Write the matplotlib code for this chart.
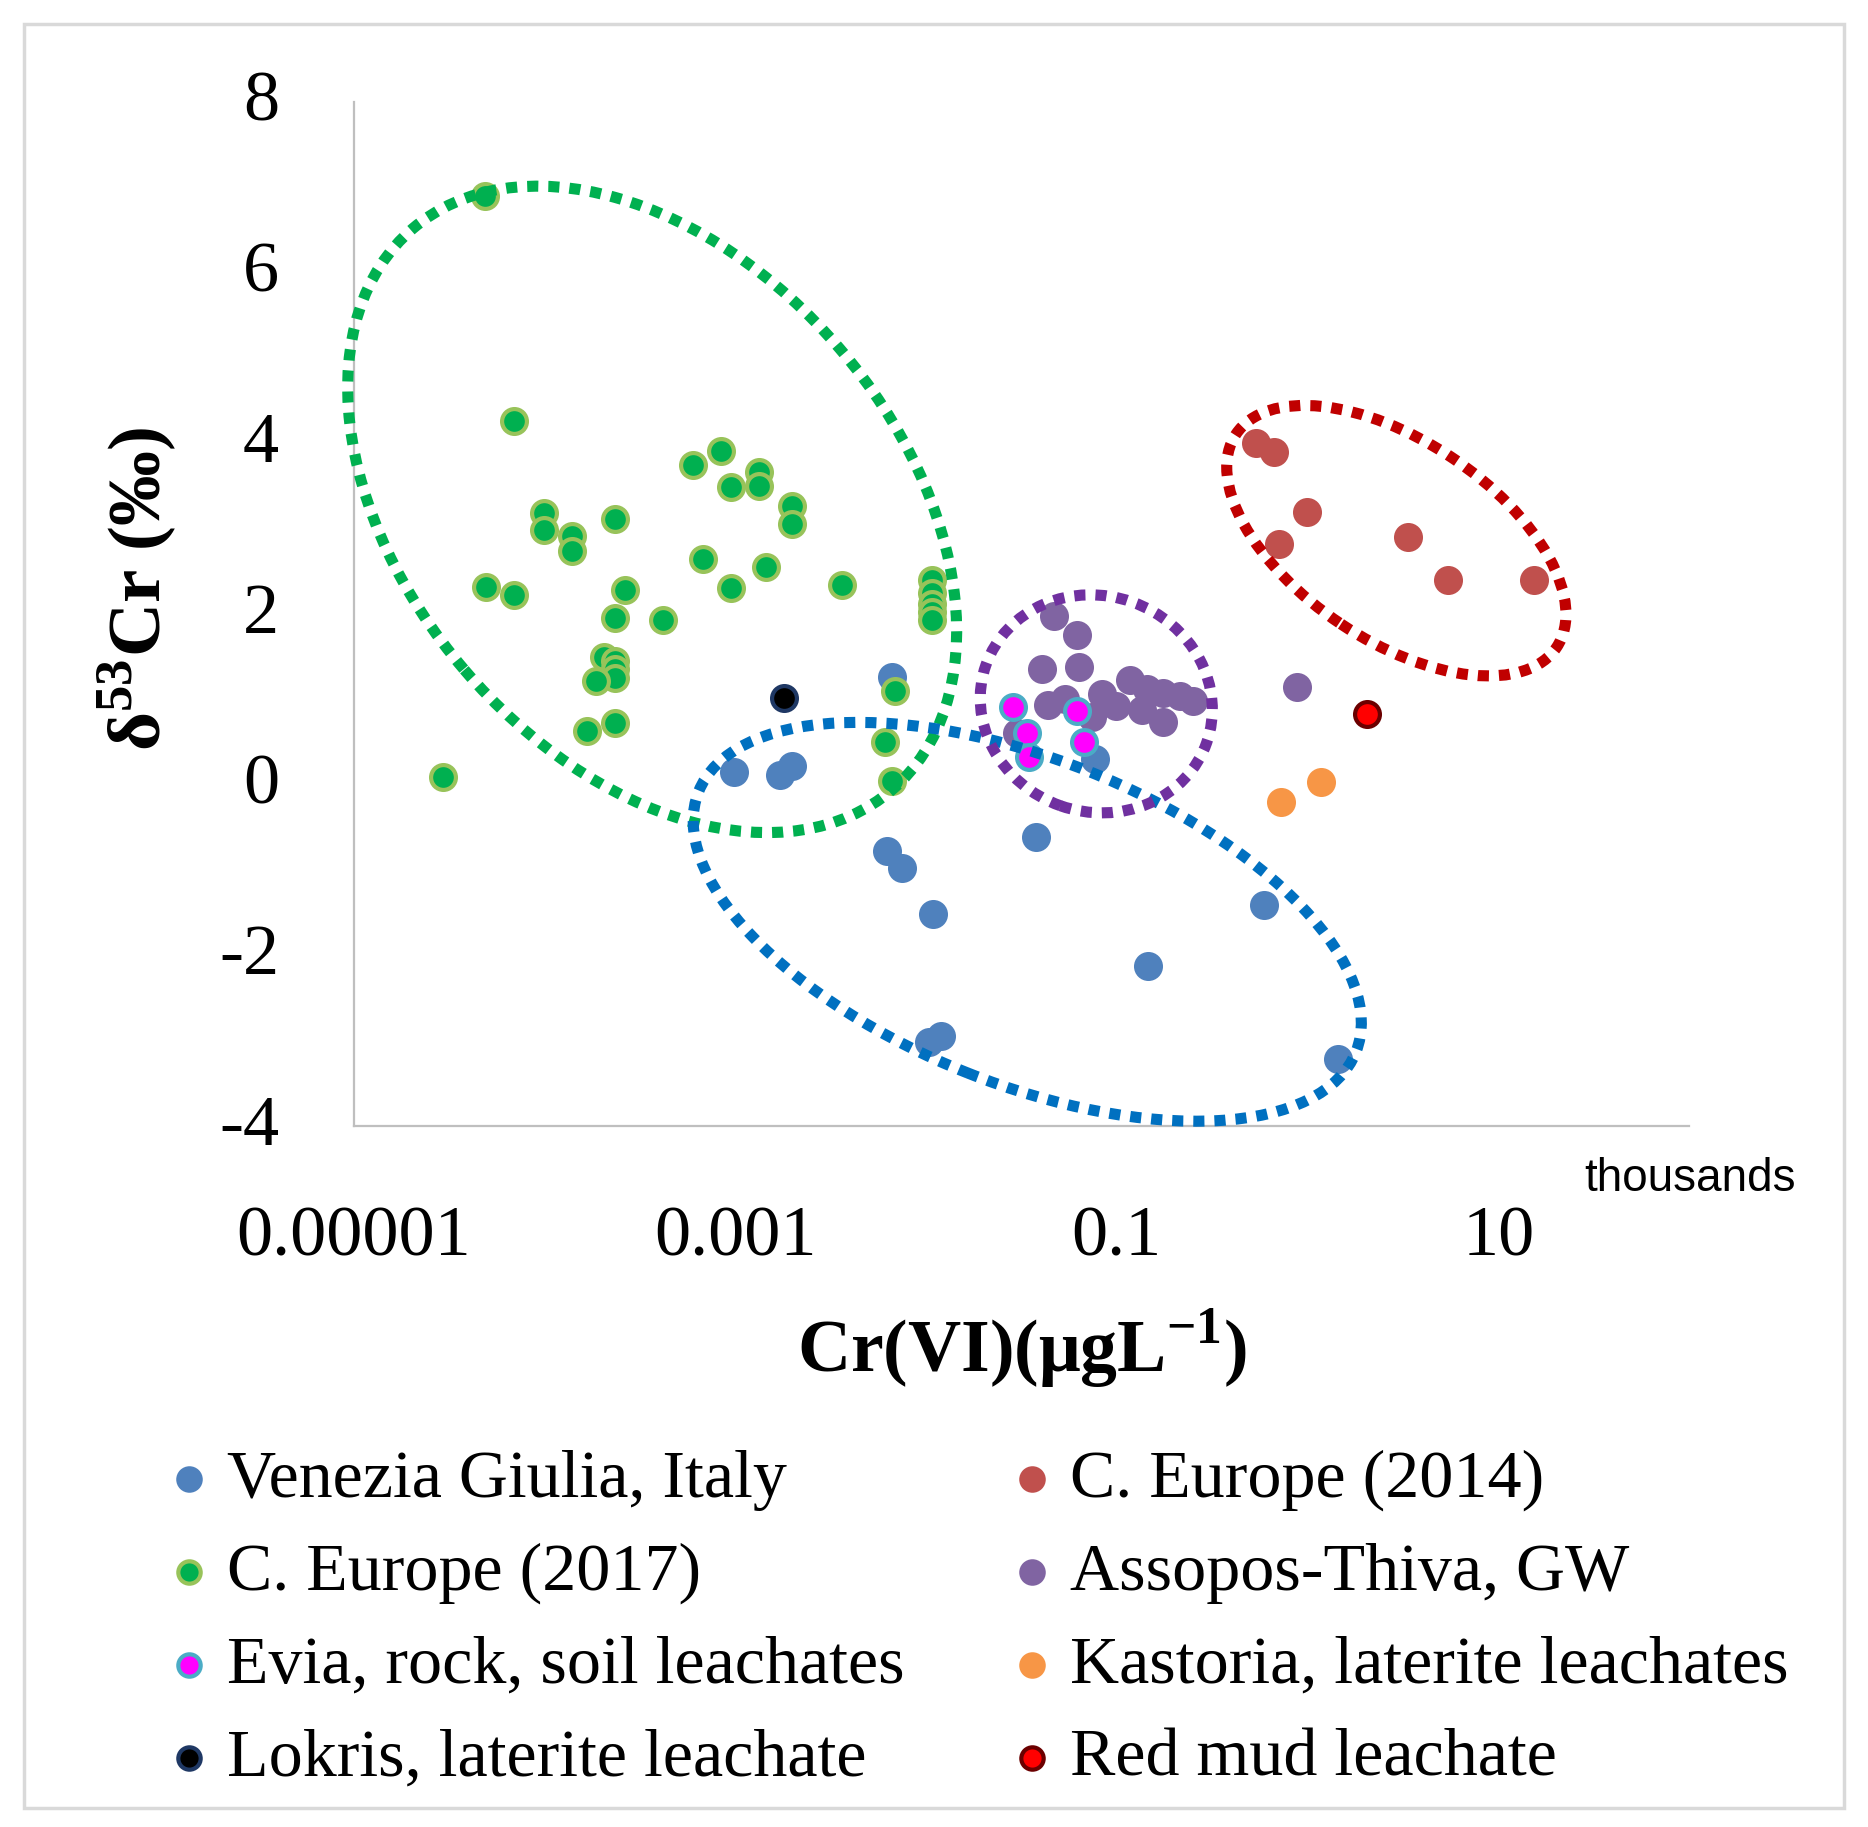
import numpy as np
import matplotlib.pyplot as plt
from matplotlib.patches import Ellipse, Rectangle
from matplotlib.transforms import ScaledTranslation

plt.rcParams['font.family'] = ['Liberation Serif', 'DejaVu Serif']
plt.rcParams['mathtext.fontset'] = 'custom'
plt.rcParams['mathtext.rm'] = 'Liberation Serif'
plt.rcParams['mathtext.bf'] = 'Liberation Serif:bold'

# Cr(VI) (ug/L) and d53Cr (permil) per data set
venezia_x = [9.8e-4, 1.72e-3, 1.98e-3, 6.65e-3, 6.2e-3, 7.5e-3, 0.0108, 0.0104, 0.0120,
             0.0376, 0.146, 0.589, 1.45, 0.0769]
venezia_y = [0.15, 0.11, 0.22, 1.26, -0.78, -0.98, -1.51, -3.02, -2.94,
             -0.61, -2.13, -1.41, -3.22, 0.30]

ceu14_x = [0.535, 0.667, 0.991, 0.706, 3.36, 5.46, 15.3]
ceu14_y = [4.00, 3.90, 3.19, 2.82, 2.90, 2.40, 2.40]

ceu17_x = [4.84e-5, 6.93e-5, 5.98e-4, 8.38e-4, 9.44e-4, 1.33e-3, 1.33e-3, 1.98e-3, 1.98e-3,
           9.95e-5, 9.95e-5, 1.39e-4, 1.39e-4, 2.33e-4, 4.91e-5, 6.93e-5, 6.75e-4, 9.44e-4,
           1.45e-3, 3.61e-3, 2.64e-4, 2.33e-4, 4.15e-4,
           0.0107, 0.0107, 0.0107, 0.0107, 0.0107,
           2.04e-4, 2.33e-4, 2.33e-4, 2.33e-4, 1.85e-4,
           1.66e-4, 2.33e-4, 2.92e-5, 6.87e-3, 6.05e-3, 6.64e-3]
ceu17_y = [6.90, 4.26, 3.75, 3.91, 3.49, 3.66, 3.50, 3.27, 3.06,
           3.18, 2.99, 2.91, 2.74, 3.11, 2.32, 2.22, 2.64, 2.31,
           2.55, 2.34, 2.28, 1.95, 1.93,
           2.40, 2.25, 2.12, 2.02, 1.93,
           1.50, 1.45, 1.35, 1.25, 1.21,
           0.63, 0.72, 0.09, 1.10, 0.50, 0.04]

assopos_x = [0.0469, 0.0617, 0.0404, 0.0635, 0.0433, 0.0535, 0.0834, 0.0991, 0.117,
             0.144, 0.175, 0.175, 0.252, 0.0738, 0.0299, 0.881, 0.215, 0.135]
assopos_y = [1.98, 1.75, 1.36, 1.38, 0.93, 1.00, 1.06, 0.92, 1.23,
             1.12, 1.08, 0.73, 0.98, 0.79, 0.61, 1.15, 1.04, 0.88]

evia_x = [0.0286, 0.0337, 0.0348, 0.0617, 0.0673]
evia_y = [0.91, 0.60, 0.32, 0.86, 0.50]

kastoria_x = [0.726, 1.18]
kastoria_y = [-0.20, 0.03]

lokris_x = [1.79e-3]
lokris_y = [1.01]

redmud_x = [2.05]
redmud_y = [0.83]

xticks = [1e-5, 1e-3, 1e-1, 10]
xticklabels = ['0.00001', '0.001', '0.1', '10']
yticks = [-4, -2, 0, 2, 4, 6, 8]
yticklabels = ['-4', '-2', '0', '2', '4', '6', '8']

W, H = 1868, 1827
fig = plt.figure(figsize=(W / 100, H / 100), dpi=100)
ax = fig.add_axes([354 / W, 1 - 1126 / H, (1689 - 354) / W, (1126 - 102) / H])

series = [
    ('Venezia Giulia, Italy', venezia_x, venezia_y, '#4F81BD', '#4F81BD'),
    ('C. Europe (2014)', ceu14_x, ceu14_y, '#C0504D', '#C0504D'),
    ('C. Europe (2017)', ceu17_x, ceu17_y, '#00B050', '#98C35A'),
    ('Assopos-Thiva, GW', assopos_x, assopos_y, '#8064A2', '#8064A2'),
    ('Evia, rock, soil leachates', evia_x, evia_y, '#FF00FF', '#4BACC6'),
    ('Kastoria, laterite leachates', kastoria_x, kastoria_y, '#F79646', '#F79646'),
    ('Lokris, laterite leachate', lokris_x, lokris_y, '#000000', '#1F3864'),
    ('Red mud leachate', redmud_x, redmud_y, '#FF0000', '#6B0000'),
]
handles = []
for label, xs, ys, fc, ec in series:
    h = ax.scatter(xs, ys, s=320, c=fc, edgecolors=ec, linewidths=3, label=label, zorder=2)
    handles.append(h)

ax.set_xscale('log')
ax.set_xlim(1e-5, 1e2)
ax.set_ylim(-4, 8)
ax.set_xticks(xticks)
ax.set_xticklabels(xticklabels)
ax.set_yticks(yticks)
ax.set_yticklabels(yticklabels)
ax.xaxis.set_minor_locator(plt.NullLocator())
ax.tick_params(axis='both', length=0, labelsize=52)
ax.tick_params(axis='y', pad=54)
ax.tick_params(axis='x', pad=57)
# nudge y tick labels up a little
for lbl in ax.get_yticklabels():
    lbl.set_transform(lbl.get_transform() + ScaledTranslation(0, 4.5 / 72, fig.dpi_scale_trans))
for s in ['top', 'right']:
    ax.spines[s].set_visible(False)
for s in ['left', 'bottom']:
    ax.spines[s].set_color('#BFBFBF')
    ax.spines[s].set_linewidth(1.6)

ax.set_xlabel(r'Cr(VI)(μgL$^{\mathbf{-1}}$)', fontsize=53, fontweight='bold')
ax.xaxis.label.set_verticalalignment('center')
ax.xaxis.set_label_coords(0.5004, -0.218)
ax.set_ylabel(r'δ$^{\mathbf{53}}$Cr (‰)', fontsize=54, fontweight='bold')
ax.yaxis.label.set_verticalalignment('center')
ax.yaxis.set_label_coords(-0.1625, 0.524)

fig.text(1796 / W, 1 - 1179 / H, 'thousands', ha='right', va='center',
         family='Liberation Sans', fontsize=33)

# dotted group outlines: centre (data), width/height (inch), angle
groups = [
    (3.66e-4, 3.226, 7.38, 4.94, -49.5, '#00B050'),
    (0.0339, -1.607, 7.07, 3.25, -21.6, '#0070C0'),
    (0.078, 0.947, 2.34, 2.16, -19.4, '#7030A0'),
    (2.92, 2.859, 3.85, 2.00, -33.6, '#C00000'),
]
for cx, cy, w, h, ang, col in groups:
    tr = fig.dpi_scale_trans + ScaledTranslation(cx, cy, ax.transData)
    e = Ellipse((0, 0), w, h, angle=ang, transform=tr, fill=False, edgecolor=col,
                linewidth=8, linestyle=(0, (1, 0.9)), capstyle='butt', zorder=3, clip_on=False)
    ax.add_artist(e)

order = [0, 2, 4, 6, 1, 3, 5, 7]
fig.legend([handles[i] for i in order], [series[i][0] for i in order],
           loc='upper left', bbox_to_anchor=(162 / W, 1 - 1449 / H), ncol=2, frameon=False,
           fontsize=49, markerscale=0.9, handlelength=0.8, handletextpad=0.16,
           columnspacing=1.46, labelspacing=0.46, borderpad=0, borderaxespad=0)

fig.add_artist(Rectangle((24 / W, 1 - 1808 / H), (1844 - 24) / W, (1808 - 24) / H,
                         transform=fig.transFigure, fill=False, edgecolor='#D9D9D9', linewidth=2.5))

fig.savefig('out.png', dpi=100)
